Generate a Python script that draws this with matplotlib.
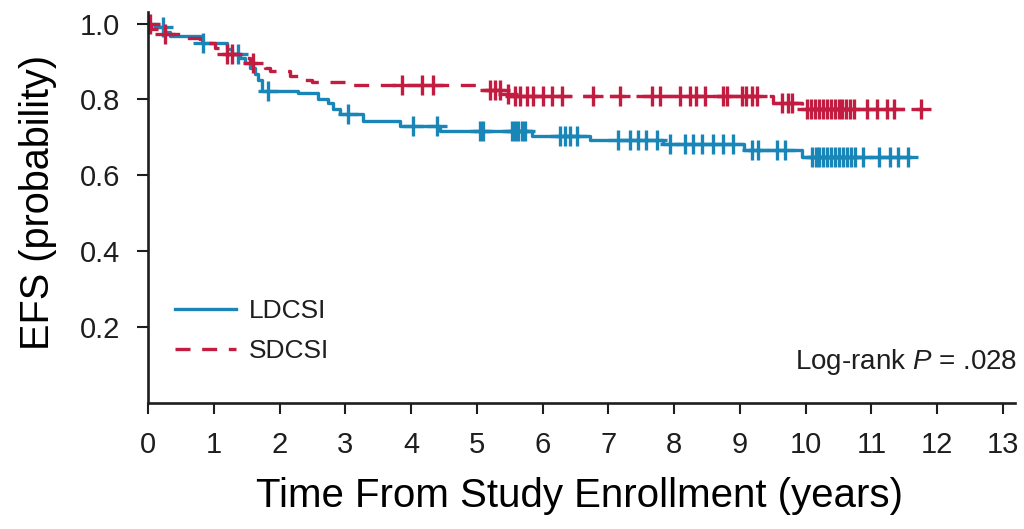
import matplotlib
matplotlib.use("Agg")
import matplotlib.pyplot as plt
import numpy as np

plt.rcParams['font.family'] = ['Liberation Sans', 'DejaVu Sans']
plt.rcParams['mathtext.fontset'] = 'custom'
plt.rcParams['mathtext.it'] = 'Liberation Sans:italic'
plt.rcParams['mathtext.rm'] = 'Liberation Sans'
plt.rcParams['text.color'] = '#1e1e1e'
plt.rcParams['xtick.color'] = '#1e1e1e'
plt.rcParams['ytick.color'] = '#1e1e1e'

# LDCSI: event times (years) and survival after each step
ld_times = [0, 0.15, 0.26, 0.33, 0.82, 1.20, 1.28, 1.40, 1.47, 1.55, 1.63, 1.67, 1.73,
            2.28, 2.58, 2.74, 2.81, 2.92, 3.27, 3.83, 4.44, 5.84, 6.72, 7.83, 9.07, 9.95]
ld_surv = [1.0, 0.99, 0.978, 0.966, 0.95, 0.934, 0.92, 0.908, 0.895, 0.882, 0.868, 0.85, 0.822,
           0.816, 0.80, 0.79, 0.775, 0.763, 0.742, 0.73, 0.716, 0.705, 0.692, 0.682, 0.668, 0.648]
ld_end = 11.58
ld_censor = [0.23, 0.84, 1.37, 1.82, 3.04, 4.03, 4.39, 5.05, 5.09, 5.53, 5.58, 5.62, 5.68, 5.73,
             6.26, 6.34, 6.41, 6.53, 7.14, 7.33, 7.45, 7.58, 7.74, 7.93, 8.16, 8.28, 8.43,
             8.59, 8.74, 8.89, 9.18, 9.27, 9.56, 9.68, 10.09, 10.15, 10.21, 10.27, 10.33,
             10.39, 10.45, 10.51, 10.57, 10.63, 10.69, 10.75, 10.87, 11.12, 11.28, 11.40, 11.55]

# SDCSI
sd_times = [0, 0.05, 0.26, 0.50, 0.79, 1.02, 1.17, 1.40, 1.55, 1.78, 1.85, 2.16, 2.31, 2.49,
            3.12, 5.00, 5.40, 5.50, 9.50, 9.95]
sd_surv = [1.0, 0.985, 0.972, 0.962, 0.948, 0.935, 0.92, 0.91, 0.897, 0.884, 0.876, 0.863,
           0.85, 0.845, 0.837, 0.825, 0.815, 0.81, 0.79, 0.776]
sd_end = 11.76
sd_censor = [0.03, 0.26, 1.20, 1.28, 1.60, 3.86, 4.16, 4.33, 5.20, 5.27, 5.35, 5.47, 5.58,
             5.65, 5.76, 5.85, 6.00, 6.14, 6.29, 6.76, 7.17, 7.67, 7.78, 8.09, 8.24, 8.34,
             8.47, 8.74, 8.80, 9.03, 9.10, 9.18, 9.26, 9.64, 9.73, 9.80, 10.02, 10.08, 10.14,
             10.20, 10.26, 10.32, 10.38, 10.44, 10.50, 10.56, 10.62, 10.68, 10.74, 10.93,
             11.08, 11.23, 11.35, 11.76]

x_ticks = list(range(0, 14))
y_ticks = [0.2, 0.4, 0.6, 0.8, 1.0]

blue = '#1a86b8'
red = '#c21d40'


def km(ax, times, surv, end, censor, color, ls, label):
    t = np.append(times, end)
    s = np.append(surv, surv[-1])
    ax.step(t, s, where='post', color=color, lw=2.4, linestyle=ls, label=label)
    idx = np.searchsorted(times, censor, side='right') - 1
    cs = np.array(surv)[idx]
    ax.plot(censor, cs, linestyle='none', marker='+', ms=15, mew=2.4, color=color)


fig = plt.figure(figsize=(10.24, 5.29), dpi=100)
ax = fig.add_axes([0.1445, 0.238, 0.8465, 0.739])

km(ax, ld_times, ld_surv, ld_end, ld_censor, blue, '-', 'LDCSI')
km(ax, sd_times, sd_surv, sd_end, sd_censor, red, (0, (4.5, 3.5)), 'SDCSI')

ax.set_xlim(0, 13.18)
ax.set_ylim(0, 1.03)
ax.set_xticks(x_ticks)
ax.set_yticks(y_ticks)
ax.set_yticklabels([f'{v:.1f}' for v in y_ticks])
ax.spines['top'].set_visible(False)
ax.spines['right'].set_visible(False)
for sp in ['left', 'bottom']:
    ax.spines[sp].set_linewidth(1.9)
    ax.spines[sp].set_color('#1e1e1e')
ax.tick_params(direction='out', length=8, width=1.5, labelsize=21, pad=12)

ax.set_xlabel('Time From Study Enrollment (years)', fontsize=29)
ax.set_ylabel('EFS (probability)', fontsize=28.5)
ax.xaxis.set_label_coords(0.498, -0.19)
ax.yaxis.set_label_coords(-0.105, 0.514)

ax.legend(loc='center left', bbox_to_anchor=(0.031, 0.184), frameon=False, fontsize=19,
          handlelength=2.3, handletextpad=0.5, labelspacing=0.6, borderpad=0, borderaxespad=0)

ax.text(1.003, 0.105, 'Log-rank $P$ = .028', transform=ax.transAxes, ha='right',
        va='center', fontsize=20)

fig.savefig('out.png', dpi=100)
